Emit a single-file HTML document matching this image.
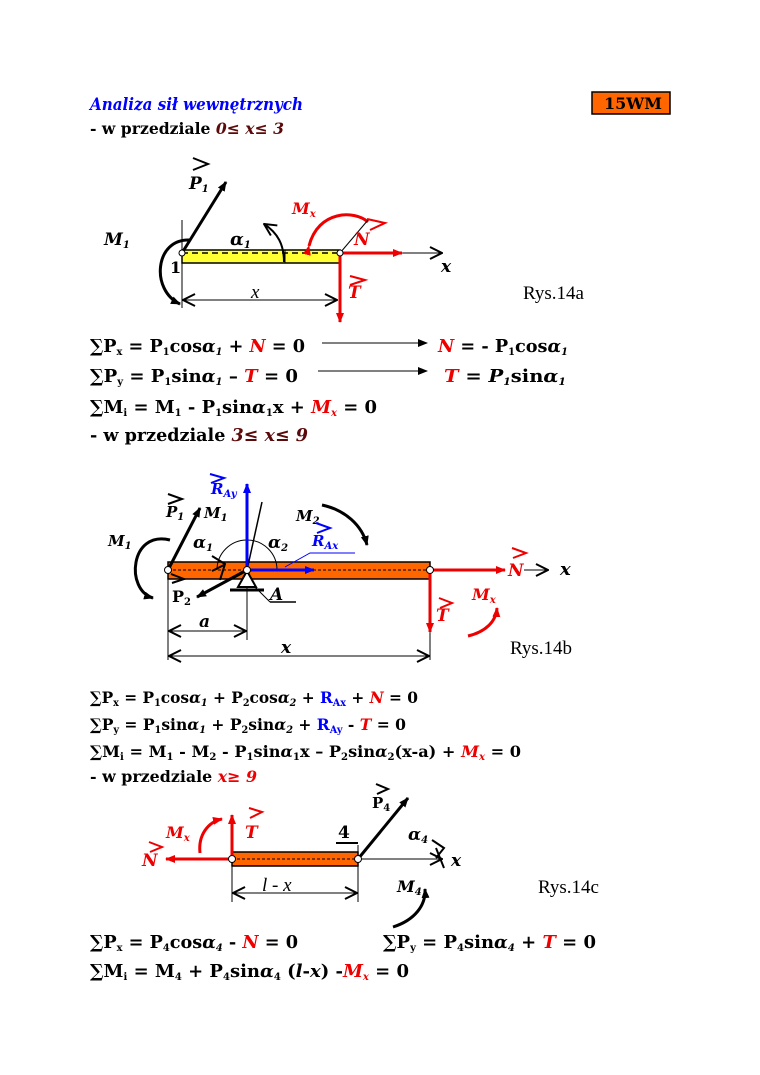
<!DOCTYPE html>
<html><head><meta charset="utf-8"><style>
html,body{margin:0;padding:0;background:#fff;}
svg{display:block;}
text{font-family:"DejaVu Serif","Liberation Serif",serif;font-weight:bold;}
.s{font-size:10px;}
.r{fill:#e00;}
.b{fill:#00f;}
.i{font-style:italic;}
.br{fill:#5a0a0a;font-style:italic;}
.n{font-family:"Liberation Serif",serif;font-weight:normal;}
</style></head><body>
<svg width="760" height="1075" viewBox="0 0 760 1075" xmlns="http://www.w3.org/2000/svg">
<defs>
<marker id="ak" markerWidth="10" markerHeight="8" refX="9" refY="4" orient="auto" markerUnits="userSpaceOnUse"><path d="M0,0 L10,4 L0,8 z" fill="#000"/></marker>
<marker id="ar" markerWidth="10" markerHeight="8" refX="9" refY="4" orient="auto" markerUnits="userSpaceOnUse"><path d="M0,0 L10,4 L0,8 z" fill="#e00"/></marker>
<marker id="ab" markerWidth="10" markerHeight="8" refX="9" refY="4" orient="auto" markerUnits="userSpaceOnUse"><path d="M0,0 L10,4 L0,8 z" fill="#00f"/></marker>
<marker id="ao" markerWidth="14" markerHeight="14" refX="13" refY="7" orient="auto" markerUnits="userSpaceOnUse"><path d="M1,1 L13,7 L1,13" fill="none" stroke="#000" stroke-width="2"/></marker>
<marker id="ao2" markerWidth="14" markerHeight="14" refX="1" refY="7" orient="auto" markerUnits="userSpaceOnUse"><path d="M13,1 L1,7 L13,13" fill="none" stroke="#000" stroke-width="2"/></marker>
</defs>

<!-- header -->
<text x="90" y="110" font-size="17" class="b i" textLength="213" lengthAdjust="spacingAndGlyphs">Analiza sił wewnętrznych</text>
<rect x="592" y="92" width="78" height="22" fill="#ff6600" stroke="#000" stroke-width="1.5"/>
<text x="604" y="109" font-size="16">15WM</text>
<text x="90" y="134" font-size="16" textLength="194" lengthAdjust="spacingAndGlyphs">- w przedziale <tspan class="br">0≤ x≤ 3</tspan></text>

<!-- Diagram 1 -->
<rect x="182" y="250" width="158" height="13" fill="#ffff33" stroke="#000" stroke-width="1.5"/>
<line x1="182" y1="253" x2="340" y2="253" stroke="#000" stroke-width="1.5" stroke-dasharray="6,4"/>
<line x1="182" y1="220" x2="182" y2="308" stroke="#000" stroke-width="1"/>
<line x1="285" y1="250" x2="285" y2="263" stroke="#000" stroke-width="1"/>
<line x1="182" y1="253" x2="226" y2="182" stroke="#000" stroke-width="3" marker-end="url(#ak)"/>
<text x="189" y="189" font-size="17" class="i">P<tspan class="s" dy="3">1</tspan></text>
<path d="M193,158 L208,164 L193,170" fill="none" stroke="#000" stroke-width="2"/>
<text x="104" y="245" font-size="17" class="i">M<tspan class="s" dy="3">1</tspan></text>
<path d="M190,240 C155,238 150,290 180,304" fill="none" stroke="#000" stroke-width="3" marker-end="url(#ak)"/>
<text x="170" y="273" font-size="16">1</text>
<text x="230" y="245" font-size="18" class="i">α<tspan class="s" dy="3">1</tspan></text>
<path d="M284,262 C284,245 278,233 264,224" fill="none" stroke="#000" stroke-width="2" marker-end="url(#ao)"/>
<text x="292" y="214" font-size="16" class="r i">M<tspan class="s" dy="3">x</tspan></text>
<path d="M309,246 C318,210 355,210 368,222" fill="none" stroke="#e00" stroke-width="3" marker-start="url(#ar)"/>
<line x1="340" y1="253" x2="368" y2="220" stroke="#000" stroke-width="1"/>
<text x="354" y="245" font-size="17" class="r i">N</text>
<path d="M367,219 L385,223 L370,230" fill="none" stroke="#e00" stroke-width="2"/>
<line x1="340" y1="253" x2="442" y2="253" stroke="#000" stroke-width="1" marker-end="url(#ao)"/>
<line x1="340" y1="253" x2="402" y2="253" stroke="#e00" stroke-width="3" marker-end="url(#ar)"/>
<text x="441" y="272" font-size="17" class="i">x</text>
<line x1="340" y1="253" x2="340" y2="322" stroke="#e00" stroke-width="3" marker-end="url(#ar)"/>
<text x="348" y="298" font-size="17" class="r i">T</text>
<path d="M350,276 L365,280 L350,285" fill="none" stroke="#e00" stroke-width="2"/>
<circle cx="182" cy="253" r="3" fill="#fff" stroke="#000"/>
<circle cx="340" cy="253" r="3" fill="#fff" stroke="#000"/>
<line x1="183" y1="300" x2="337" y2="300" stroke="#000" stroke-width="1" marker-start="url(#ao2)" marker-end="url(#ao)"/>
<text x="251" y="298" font-size="19" class="n i">x</text>
<text x="523" y="299" font-size="19" class="n">Rys.14a</text>

<!-- Equations 1 -->
<text x="90" y="352" font-size="18" textLength="215" lengthAdjust="spacingAndGlyphs">∑P<tspan class="s" dy="3">x</tspan><tspan dy="-3"> = P</tspan><tspan class="s" dy="3">1</tspan><tspan dy="-3">cos</tspan><tspan class="i">α</tspan><tspan class="s i" dy="3">1</tspan><tspan dy="-3"> + </tspan><tspan class="r i">N</tspan> = 0</text>
<line x1="322" y1="343" x2="427" y2="343" stroke="#000" stroke-width="1" marker-end="url(#ak)"/>
<text x="438" y="352" font-size="18" textLength="130" lengthAdjust="spacingAndGlyphs"><tspan class="r i">N</tspan> = - P<tspan class="s" dy="3">1</tspan><tspan dy="-3">cos</tspan><tspan class="i">α</tspan><tspan class="s i" dy="3">1</tspan></text>
<text x="90" y="382" font-size="18" textLength="208" lengthAdjust="spacingAndGlyphs">∑P<tspan class="s" dy="3">y</tspan><tspan dy="-3"> = P</tspan><tspan class="s" dy="3">1</tspan><tspan dy="-3">sin</tspan><tspan class="i">α</tspan><tspan class="s i" dy="3">1</tspan><tspan dy="-3"> – </tspan><tspan class="r i">T</tspan> = 0</text>
<line x1="318" y1="371" x2="427" y2="371" stroke="#000" stroke-width="1" marker-end="url(#ak)"/>
<text x="444" y="382" font-size="18" textLength="122" lengthAdjust="spacingAndGlyphs"><tspan class="r i">T</tspan> =   <tspan class="i">P</tspan><tspan class="s i" dy="3">1</tspan><tspan dy="-3">sin</tspan><tspan class="i">α</tspan><tspan class="s i" dy="3">1</tspan></text>
<text x="90" y="413" font-size="18" textLength="287" lengthAdjust="spacingAndGlyphs">∑M<tspan class="s" dy="3">i</tspan><tspan dy="-3"> = M</tspan><tspan class="s" dy="3">1</tspan><tspan dy="-3"> - P</tspan><tspan class="s" dy="3">1</tspan><tspan dy="-3">sin</tspan><tspan class="i">α</tspan><tspan class="s" dy="3">1</tspan><tspan dy="-3">x + </tspan><tspan class="r i">M</tspan><tspan class="s r i" dy="3">x</tspan><tspan dy="-3"> = 0</tspan></text>
<text x="90" y="441" font-size="18" textLength="218" lengthAdjust="spacingAndGlyphs">- w przedziale <tspan class="br">3≤ x≤ 9</tspan></text>

<!-- Diagram 2 -->
<rect x="168" y="562" width="262" height="17" fill="#ff6600" stroke="#000" stroke-width="1.5"/>
<line x1="168" y1="570" x2="430" y2="570" stroke="#000" stroke-width="1" stroke-dasharray="3,2"/>
<line x1="168" y1="570" x2="168" y2="660" stroke="#000" stroke-width="1"/>
<line x1="247" y1="570" x2="247" y2="640" stroke="#000" stroke-width="1"/>
<line x1="430" y1="570" x2="430" y2="660" stroke="#000" stroke-width="1"/>
<path d="M217,570 A30,30 0 0 1 277,570" fill="none" stroke="#000" stroke-width="1"/>
<line x1="247" y1="570" x2="262" y2="502" stroke="#000" stroke-width="1.5"/>
<line x1="247" y1="570" x2="247" y2="484" stroke="#00f" stroke-width="3" marker-end="url(#ab)"/>
<text x="211" y="494" font-size="15" class="b i">R<tspan class="s" dy="3">Ay</tspan></text>
<path d="M210,474 L224,478 L211,483" fill="none" stroke="#00f" stroke-width="2"/>
<line x1="168" y1="570" x2="200" y2="508" stroke="#000" stroke-width="3" marker-end="url(#ak)"/>
<text x="166" y="517" font-size="15" class="i">P<tspan class="s" dy="3">1</tspan></text>
<path d="M168,494 L182,499 L168,504" fill="none" stroke="#000" stroke-width="2"/>
<text x="204" y="518" font-size="15" class="i">M<tspan class="s" dy="3">1</tspan></text>
<text x="108" y="546" font-size="15" class="i">M<tspan class="s" dy="3">1</tspan></text>
<path d="M170,540 C130,530 125,590 153,598" fill="none" stroke="#000" stroke-width="3" marker-end="url(#ak)"/>
<text x="193" y="548" font-size="17" class="i">α<tspan class="s" dy="3">1</tspan></text>
<text x="268" y="548" font-size="17" class="i">α<tspan class="s" dy="3">2</tspan></text>
<path d="M212,556 L225,564 L220,580 M212,571 L224,565" fill="none" stroke="#000" stroke-width="2"/>
<text x="296" y="521" font-size="15" class="i">M<tspan class="s" dy="3">2</tspan></text>
<path d="M322,505 C345,510 362,525 367,545" fill="none" stroke="#000" stroke-width="3" marker-end="url(#ak)"/>
<line x1="247" y1="570" x2="314" y2="570" stroke="#00f" stroke-width="3" marker-end="url(#ab)"/>
<path d="M285,567 L310,553 L355,553" fill="none" stroke="#00f" stroke-width="1"/>
<text x="312" y="546" font-size="15" class="b i">R<tspan class="s" dy="3">Ax</tspan></text>
<path d="M316,523 L330,528 L317,533" fill="none" stroke="#00f" stroke-width="2"/>
<line x1="247" y1="570" x2="197" y2="597" stroke="#000" stroke-width="3" marker-end="url(#ak)"/>
<text x="172" y="602" font-size="16">P<tspan class="s" dy="3">2</tspan></text>
<path d="M171,574 L184,579 L172,583" fill="none" stroke="#000" stroke-width="2"/>
<path d="M247,571 L238,587 L256,587 Z" fill="#fff" stroke="#000" stroke-width="2"/>
<line x1="230" y1="590" x2="264" y2="590" stroke="#000" stroke-width="3"/>
<line x1="254" y1="586" x2="270" y2="602" stroke="#000" stroke-width="1"/>
<line x1="270" y1="602" x2="296" y2="602" stroke="#000" stroke-width="1.5"/>
<text x="270" y="600" font-size="17" class="i">A</text>
<line x1="430" y1="570" x2="505" y2="570" stroke="#e00" stroke-width="3" marker-end="url(#ar)"/>
<text x="508" y="576" font-size="17" class="r i">N</text>
<path d="M512,548 L526,553 L513,558" fill="none" stroke="#e00" stroke-width="2"/>
<line x1="524" y1="570" x2="548" y2="570" stroke="#000" stroke-width="1" marker-end="url(#ao)"/>
<text x="560" y="575" font-size="18" class="i">x</text>
<line x1="430" y1="570" x2="430" y2="632" stroke="#e00" stroke-width="3" marker-end="url(#ar)"/>
<text x="436" y="621" font-size="17" class="r i">T</text>
<path d="M439,598 L452,603 L440,608" fill="none" stroke="#e00" stroke-width="2"/>
<text x="472" y="600" font-size="16" class="r i">M<tspan class="s" dy="3">x</tspan></text>
<path d="M468,636 C485,632 496,622 497,608" fill="none" stroke="#e00" stroke-width="3" marker-end="url(#ar)"/>
<circle cx="168" cy="570" r="3.5" fill="#fff" stroke="#000"/>
<circle cx="247" cy="570" r="3.5" fill="#fff" stroke="#000"/>
<circle cx="430" cy="570" r="3.5" fill="#fff" stroke="#000"/>
<line x1="169" y1="631" x2="246" y2="631" stroke="#000" stroke-width="1" marker-start="url(#ao2)" marker-end="url(#ao)"/>
<text x="199" y="627" font-size="17" class="i">a</text>
<line x1="169" y1="656" x2="429" y2="656" stroke="#000" stroke-width="1" marker-start="url(#ao2)" marker-end="url(#ao)"/>
<text x="281" y="653" font-size="17" class="i">x</text>
<text x="510" y="654" font-size="19" class="n">Rys.14b</text>

<!-- Equations 2 -->
<text x="90" y="703" font-size="16" textLength="328" lengthAdjust="spacingAndGlyphs">∑P<tspan class="s" dy="3">x</tspan><tspan dy="-3"> = P</tspan><tspan class="s" dy="3">1</tspan><tspan dy="-3">cos</tspan><tspan class="i">α</tspan><tspan class="s i" dy="3">1</tspan><tspan dy="-3"> + P</tspan><tspan class="s" dy="3">2</tspan><tspan dy="-3">cos</tspan><tspan class="i">α</tspan><tspan class="s i" dy="3">2</tspan><tspan dy="-3"> + </tspan><tspan class="b">R</tspan><tspan class="s b" dy="3">Ax</tspan><tspan dy="-3"> + </tspan><tspan class="r i">N</tspan> = 0</text>
<text x="90" y="730" font-size="16" textLength="316" lengthAdjust="spacingAndGlyphs">∑P<tspan class="s" dy="3">y</tspan><tspan dy="-3"> = P</tspan><tspan class="s" dy="3">1</tspan><tspan dy="-3">sin</tspan><tspan class="i">α</tspan><tspan class="s i" dy="3">1</tspan><tspan dy="-3"> + P</tspan><tspan class="s" dy="3">2</tspan><tspan dy="-3">sin</tspan><tspan class="i">α</tspan><tspan class="s i" dy="3">2</tspan><tspan dy="-3"> + </tspan><tspan class="b">R</tspan><tspan class="s b" dy="3">Ay</tspan><tspan dy="-3"> - </tspan><tspan class="r i">T</tspan> = 0</text>
<text x="90" y="757" font-size="16" textLength="431" lengthAdjust="spacingAndGlyphs">∑M<tspan class="s" dy="3">i</tspan><tspan dy="-3"> = M</tspan><tspan class="s" dy="3">1</tspan><tspan dy="-3"> - M</tspan><tspan class="s" dy="3">2</tspan><tspan dy="-3"> - P</tspan><tspan class="s" dy="3">1</tspan><tspan dy="-3">sin</tspan><tspan class="i">α</tspan><tspan class="s" dy="3">1</tspan><tspan dy="-3">x – P</tspan><tspan class="s" dy="3">2</tspan><tspan dy="-3">sin</tspan><tspan class="i">α</tspan><tspan class="s" dy="3">2</tspan><tspan dy="-3">(x-a)  + </tspan><tspan class="r i">M</tspan><tspan class="s r i" dy="3">x</tspan><tspan dy="-3"> = 0</tspan></text>
<text x="90" y="782" font-size="16" textLength="167" lengthAdjust="spacingAndGlyphs">- w przedziale <tspan class="r i">x≥ 9</tspan></text>

<!-- Diagram 3 -->
<rect x="232" y="852" width="126" height="14" fill="#ff6600" stroke="#000" stroke-width="1.5"/>
<line x1="232" y1="859" x2="358" y2="859" stroke="#000" stroke-width="1" stroke-dasharray="3,2"/>
<line x1="232" y1="859" x2="232" y2="902" stroke="#000" stroke-width="1"/>
<line x1="358" y1="845" x2="358" y2="902" stroke="#000" stroke-width="1"/>
<line x1="232" y1="859" x2="166" y2="859" stroke="#e00" stroke-width="3" marker-end="url(#ar)"/>
<text x="142" y="866" font-size="17" class="r i">N</text>
<path d="M149,842 L162,847 L150,852" fill="none" stroke="#e00" stroke-width="2"/>
<text x="166" y="838" font-size="16" class="r i">M<tspan class="s" dy="3">x</tspan></text>
<path d="M200,853 C198,835 208,822 222,819" fill="none" stroke="#e00" stroke-width="3" marker-end="url(#ar)"/>
<line x1="232" y1="859" x2="232" y2="815" stroke="#e00" stroke-width="3" marker-end="url(#ar)"/>
<text x="245" y="838" font-size="17" class="r i">T</text>
<path d="M249,808 L262,812 L250,818" fill="none" stroke="#e00" stroke-width="2"/>
<text x="338" y="838" font-size="17">4</text>
<line x1="336" y1="843" x2="358" y2="843" stroke="#000" stroke-width="2"/>
<line x1="358" y1="859" x2="408" y2="798" stroke="#000" stroke-width="3" marker-end="url(#ak)"/>
<text x="372" y="808" font-size="15">P<tspan class="s" dy="3">4</tspan></text>
<path d="M376,784 L388,789 L377,794" fill="none" stroke="#000" stroke-width="2"/>
<text x="408" y="840" font-size="17" class="i">α<tspan class="s" dy="3">4</tspan></text>
<path d="M432,840 L444,848 L436,858 M436,848 L444,868" fill="none" stroke="#000" stroke-width="2"/>
<line x1="358" y1="859" x2="442" y2="859" stroke="#000" stroke-width="1" marker-end="url(#ao)"/>
<text x="451" y="866" font-size="17" class="i">x</text>
<text x="397" y="892" font-size="16" class="i">M<tspan class="s" dy="3">4</tspan></text>
<path d="M393,927 C415,920 426,905 425,889" fill="none" stroke="#000" stroke-width="3" marker-end="url(#ak)"/>
<circle cx="232" cy="859" r="3.5" fill="#fff" stroke="#000"/>
<circle cx="358" cy="859" r="3.5" fill="#fff" stroke="#000"/>
<line x1="233" y1="893" x2="357" y2="893" stroke="#000" stroke-width="1" marker-start="url(#ao2)" marker-end="url(#ao)"/>
<text x="262" y="891" font-size="19" class="n i">l - x</text>
<text x="538" y="893" font-size="19" class="n">Rys.14c</text>

<!-- Equations 3 -->
<text x="90" y="948" font-size="18" textLength="208" lengthAdjust="spacingAndGlyphs">∑P<tspan class="s" dy="3">x</tspan><tspan dy="-3"> = P</tspan><tspan class="s" dy="3">4</tspan><tspan dy="-3">cos</tspan><tspan class="i">α</tspan><tspan class="s i" dy="3">4</tspan><tspan dy="-3"> - </tspan><tspan class="r i">N</tspan> = 0</text>
<text x="383" y="948" font-size="18" textLength="213" lengthAdjust="spacingAndGlyphs">∑P<tspan class="s" dy="3">y</tspan><tspan dy="-3"> = P</tspan><tspan class="s" dy="3">4</tspan><tspan dy="-3">sin</tspan><tspan class="i">α</tspan><tspan class="s i" dy="3">4</tspan><tspan dy="-3">  + </tspan><tspan class="r i">T</tspan> = 0</text>
<text x="90" y="977" font-size="18" textLength="319" lengthAdjust="spacingAndGlyphs">∑M<tspan class="s" dy="3">i</tspan><tspan dy="-3"> = M</tspan><tspan class="s" dy="3">4</tspan><tspan dy="-3"> + P</tspan><tspan class="s" dy="3">4</tspan><tspan dy="-3">sin</tspan><tspan class="i">α</tspan><tspan class="s" dy="3">4</tspan><tspan dy="-3"> (</tspan><tspan class="i">l</tspan>-<tspan class="i">x</tspan>)  -<tspan class="r i">M</tspan><tspan class="s r i" dy="3">x</tspan><tspan dy="-3"> = 0</tspan></text>
</svg>
</body></html>
